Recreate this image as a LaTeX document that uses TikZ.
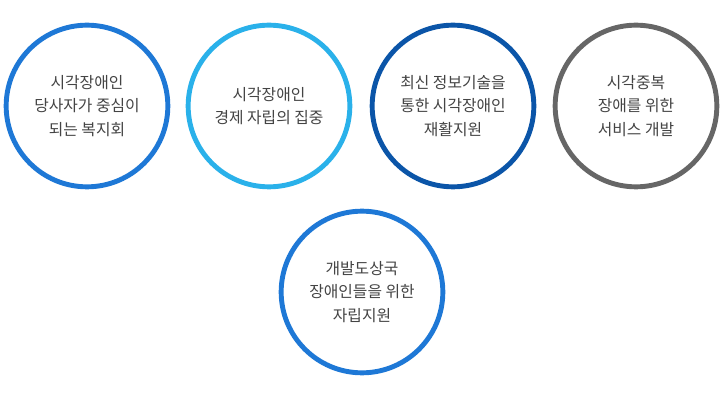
\documentclass[tikz,border=0pt]{standalone}
\usepackage{fontspec}
\setmainfont{Noto Sans CJK KR}
\definecolor{ringblue}{HTML}{1E78D6}
\definecolor{ringlight}{HTML}{2AB1EA}
\definecolor{ringdark}{HTML}{0B55A8}
\definecolor{ringgray}{HTML}{666666}
\definecolor{txtgray}{HTML}{444444}
\tikzset{
  goal/.style={circle, draw=#1, line width=4.2pt, minimum size=4.85cm,
    align=center, font=\fontsize{13.5}{20}\selectfont, text=txtgray, fill=white}
}
\begin{document}
\begin{tikzpicture}[x=0.03cm,y=-0.03cm]
  \useasboundingbox (0,0) rectangle (725,403);
  \node[goal=ringblue]  (self)   at (87,106)  {시각장애인\\당사자가 중심이\\되는 복지회};
  \node[goal=ringlight] (econ)   at (269,106) {시각장애인\\경제 자립의 집중};
  \node[goal=ringdark]  (rehab)  at (453,106) {최신 정보기술을\\통한 시각장애인\\재활지원};
  \node[goal=ringgray]  (multi)  at (636,106) {시각중복\\장애를 위한\\서비스 개발};
  \node[goal=ringblue]  (abroad) at (362,292) {개발도상국\\장애인들을 위한\\자립지원};
\end{tikzpicture}
\end{document}
